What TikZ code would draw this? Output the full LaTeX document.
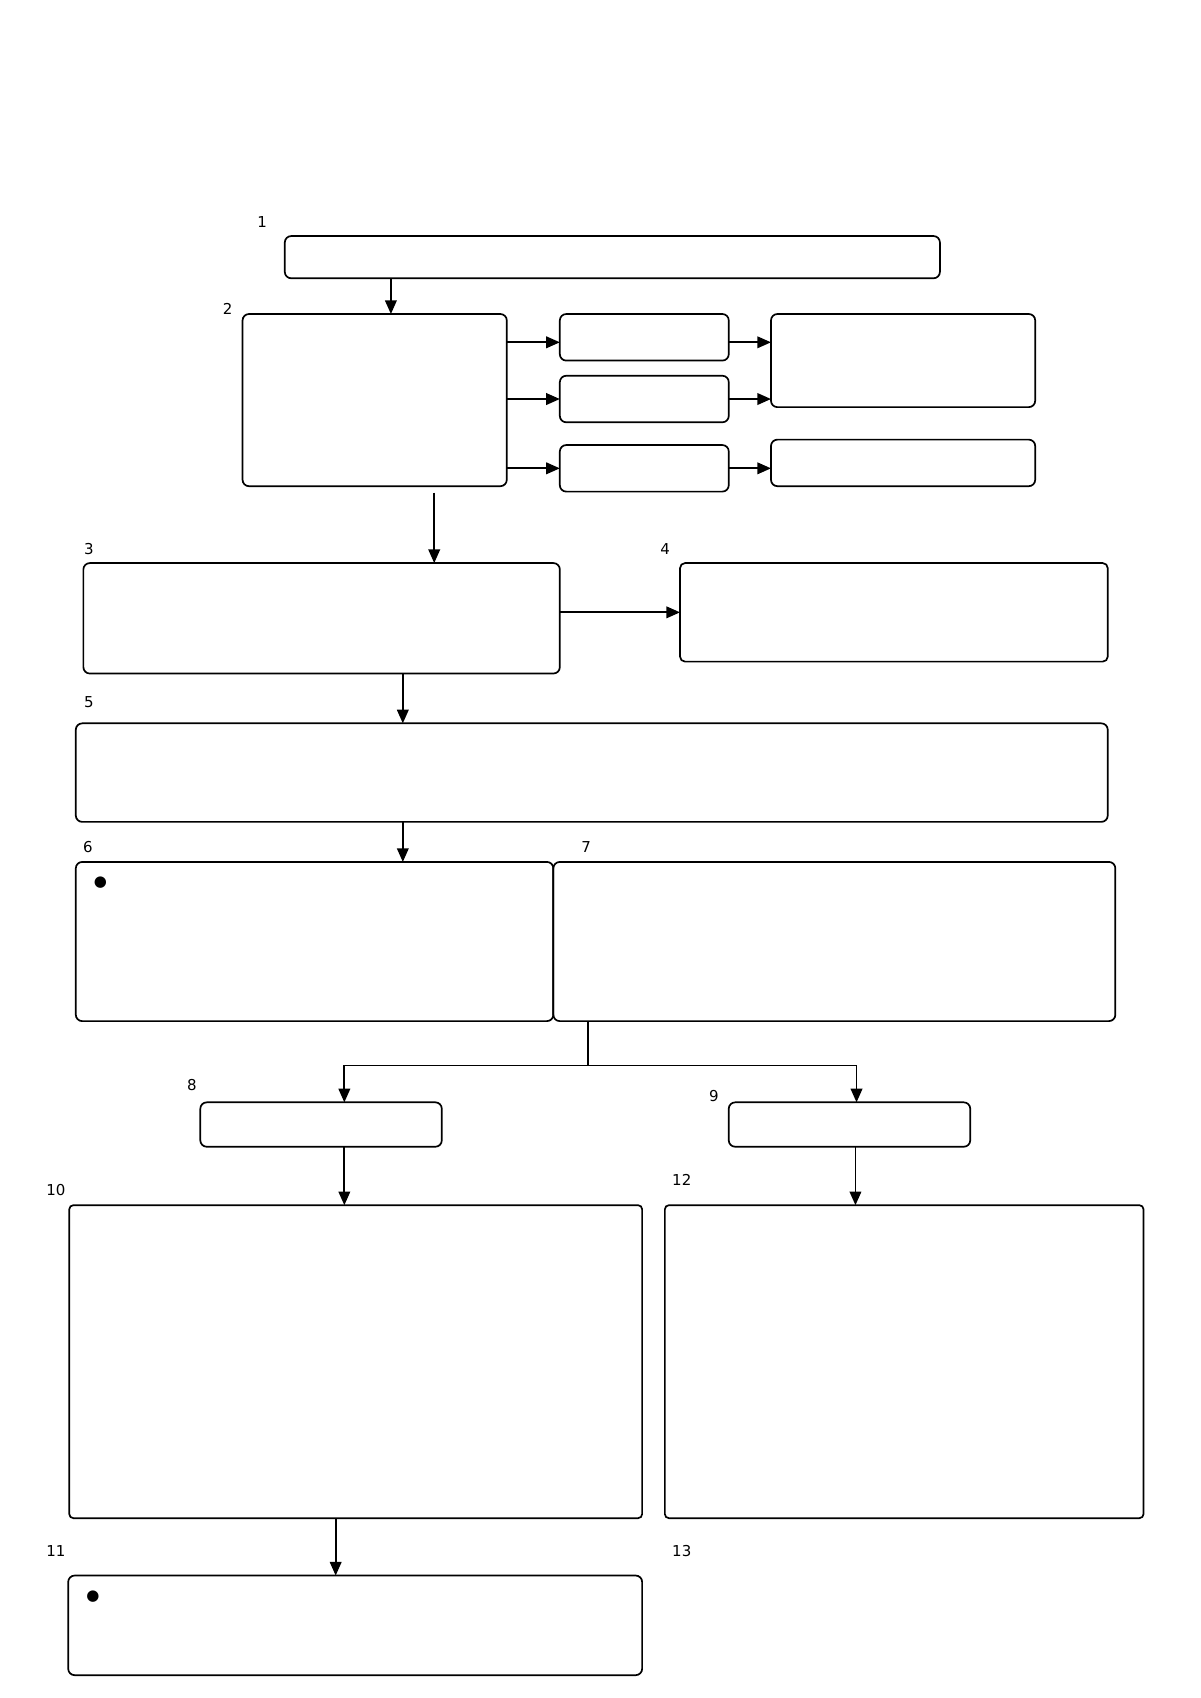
\documentclass[tikz,border=0pt]{standalone}
\usepackage{fontspec}
\setmainfont{DejaVu Sans}
\usetikzlibrary{arrows.meta}

\begin{document}
\begin{tikzpicture}[x=0.541pt, y=-0.541pt, line width=0.85pt,
    >={Triangle[length=6.8pt,width=5.8pt]},
    box_style/.style 2 args={draw=black, rounded corners=3.2pt, inner sep=0pt, outer sep=0pt,
        anchor=north west, minimum width=#1*0.541pt, minimum height=#2*0.541pt},
    num_style/.style={anchor=west, inner sep=0pt, font=\fontsize{7.5}{9}\selectfont},
    edge_style/.style={draw=black, ->}]

    \useasboundingbox (0,0) rectangle (1108.2,1568.1);

    % boxes
    \node[box_style={605}{39}] (b1) at (263,218) {};
    \node[box_style={244}{159}] (b2) at (224,290) {};
    \node[box_style={156}{43}] (b2a) at (517,290) {};
    \node[box_style={156}{43}] (b2b) at (517,347) {};
    \node[box_style={156}{43}] (b2c) at (517,411) {};
    \node[box_style={244}{86}] (b2d) at (712,290) {};
    \node[box_style={244}{43}] (b2e) at (712,406) {};
    \node[box_style={440}{102}] (b3) at (77,520) {};
    \node[box_style={395}{91}, rounded corners=2.5pt] (b4) at (628,520) {};
    \node[box_style={953}{91}] (b5) at (70,668) {};
    \node[box_style={441}{147}] (b6) at (70,796) {};
    \node[box_style={519}{147}] (b7) at (511,796) {};
    \node[box_style={223}{41}] (b8) at (185,1018) {};
    \node[box_style={223}{41}] (b9) at (673,1018) {};
    \node[box_style={529}{289}, rounded corners=2pt] (b10) at (64,1113) {};
    \node[box_style={442}{289}, rounded corners=2pt] (b12) at (614,1113) {};
    \node[box_style={530}{92}] (b11) at (63,1455) {};

    % numbers
    \node[num_style] (n1) at (237,205) {1};
    \node[num_style] (n2) at (205,285) {2};
    \node[num_style] (n3) at (77,507) {3};
    \node[num_style] (n4) at (609,507) {4};
    \node[num_style] (n5) at (77,648) {5};
    \node[num_style] (n6) at (76,782) {6};
    \node[num_style] (n7) at (536,782) {7};
    \node[num_style] (n8) at (172,1002) {8};
    \node[num_style] (n9) at (654,1012) {9};
    \node[num_style] (n10) at (42,1099) {10};
    \node[num_style] (n12) at (620,1090) {12};
    \node[num_style] (n11) at (42,1432) {11};
    \node[num_style] (n13) at (620,1432) {13};

    % bullets
    \node[num_style] (dot6) at (86,815) {●};
    \node[num_style] (dot11) at (79,1474) {●};

    % arrows
    \coordinate (split) at (543,984);
    \draw[edge_style] (b1.south -| 361,0) -- (b2.north -| 361,0);
    \draw[edge_style] ([yshift=-2.5pt]b2.east |- b2a) -- ([yshift=-2.5pt]b2a.west);
    \draw[edge_style] (b2.east |- b2b) -- (b2b.west);
    \draw[edge_style] (b2.east |- b2c) -- (b2c.west);
    \draw[edge_style] ([yshift=-2.5pt]b2a.east) -- ([yshift=-2.5pt]b2a -| b2d.west);
    \draw[edge_style] (b2b.east) -- (b2b -| b2d.west);
    \draw[edge_style] (b2c.east) -- (b2c -| b2e.west);
    \draw[edge_style, shorten <=3.2pt] (b2.south -| 401,0) -- (b3.north -| 401,0);
    \draw[edge_style] (b4.west -| b3.east) -- (b4.west);
    \draw[edge_style] (b3.south -| 372,0) -- (b5.north -| 372,0);
    \draw[edge_style] (b5.south -| 372,0) -- (b6.north -| 372,0);
    \draw[draw=black] (b7.south -| split) -- (split);
    \draw[edge_style] (split) -| (b8.north -| 318,0);
    \draw[edge_style] (split) -| (b9.north -| 791,0);
    \draw[edge_style] (b8.south -| 318,0) -- (b10.north -| 318,0);
    \draw[edge_style] (b9.south -| 790,0) -- (b12.north -| 790,0);
    \draw[edge_style] (b10.south -| 310,0) -- (b11.north -| 310,0);
\end{tikzpicture}
\end{document}
